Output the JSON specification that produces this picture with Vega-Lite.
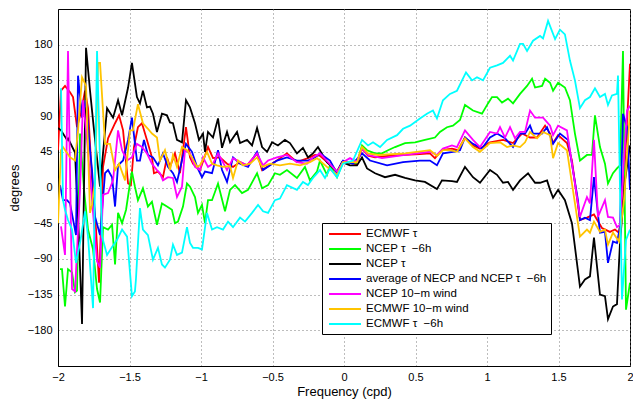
{
  "$schema": "https://vega.github.io/schema/vega-lite/v6.json",
  "description": "Phase of the wind-stress / wind response versus frequency for seven forcing products.",
  "width": 572,
  "height": 357,
  "autosize": "none",
  "padding": {"left": 58, "top": 9, "right": 3, "bottom": 35},
  "background": "white",
  "config": {
    "font": "Liberation Sans",
    "view": {"stroke": "black", "strokeWidth": 1},
    "axis": {
      "domainColor": "black", "domainWidth": 1,
      "ticks": false,
      "labelColor": "black", "labelFontSize": 11, "labelFont": "Liberation Sans",
      "titleColor": "black", "titleFontSize": 13, "titleFontWeight": "normal", "titleFont": "Liberation Sans",
      "gridColor": "#7a7a7a", "gridDash": [1, 3], "gridOpacity": 1, "gridWidth": 1
    }
  },
  "data": {"values": [
    {"s":"a","f":-2.000,"d":47},{"s":"a","f":-1.979,"d":122},{"s":"a","f":-1.951,"d":128},{"s":"a","f":-1.916,"d":120},{"s":"a","f":-1.895,"d":114},{"s":"a","f":-1.867,"d":76},{"s":"a","f":-1.839,"d":95},{"s":"a","f":-1.811,"d":122},{"s":"a","f":-1.790,"d":100},{"s":"a","f":-1.762,"d":9},{"s":"a","f":-1.734,"d":-53},{"s":"a","f":-1.713,"d":-120},{"s":"a","f":-1.685,"d":26},{"s":"a","f":-1.650,"d":62},{"s":"a","f":-1.601,"d":81},{"s":"a","f":-1.573,"d":91},{"s":"a","f":-1.545,"d":72},{"s":"a","f":-1.510,"d":5},{"s":"a","f":-1.490,"d":3},{"s":"a","f":-1.469,"d":51},{"s":"a","f":-1.441,"d":76},{"s":"a","f":-1.413,"d":81},{"s":"a","f":-1.378,"d":60},{"s":"a","f":-1.343,"d":38},{"s":"a","f":-1.329,"d":18},{"s":"a","f":-1.301,"d":20},{"s":"a","f":-1.266,"d":13},{"s":"a","f":-1.238,"d":38},{"s":"a","f":-1.217,"d":26},{"s":"a","f":-1.182,"d":43},{"s":"a","f":-1.147,"d":18},{"s":"a","f":-1.105,"d":76},{"s":"a","f":-1.077,"d":38},{"s":"a","f":-1.056,"d":30},{"s":"a","f":-1.007,"d":22},{"s":"a","f":-0.951,"d":51},{"s":"a","f":-0.916,"d":37},{"s":"a","f":-0.867,"d":38},{"s":"a","f":-0.818,"d":30},{"s":"a","f":-0.776,"d":26},{"s":"a","f":-0.727,"d":32},{"s":"a","f":-0.678,"d":28},{"s":"a","f":-0.608,"d":43},{"s":"a","f":-0.573,"d":22},{"s":"a","f":-0.538,"d":26},{"s":"a","f":-0.469,"d":34},{"s":"a","f":-0.399,"d":43},{"s":"a","f":-0.329,"d":32},{"s":"a","f":-0.252,"d":37},{"s":"a","f":-0.203,"d":41},{"s":"a","f":-0.168,"d":40},{"s":"a","f":-0.112,"d":31},{"s":"a","f":-0.049,"d":20},{"s":"a","f":-0.007,"d":32},{"s":"a","f":0.042,"d":31},{"s":"a","f":0.091,"d":29},{"s":"a","f":0.126,"d":49},{"s":"a","f":0.168,"d":40},{"s":"a","f":0.217,"d":38},{"s":"a","f":0.322,"d":40},{"s":"a","f":0.427,"d":41},{"s":"a","f":0.531,"d":42},{"s":"a","f":0.601,"d":43},{"s":"a","f":0.636,"d":37},{"s":"a","f":0.685,"d":47},{"s":"a","f":0.755,"d":49},{"s":"a","f":0.797,"d":47},{"s":"a","f":0.846,"d":63},{"s":"a","f":0.902,"d":53},{"s":"a","f":0.951,"d":49},{"s":"a","f":1.021,"d":57},{"s":"a","f":1.112,"d":60},{"s":"a","f":1.182,"d":56},{"s":"a","f":1.245,"d":68},{"s":"a","f":1.301,"d":63},{"s":"a","f":1.350,"d":63},{"s":"a","f":1.406,"d":78},{"s":"a","f":1.441,"d":68},{"s":"a","f":1.462,"d":56},{"s":"a","f":1.497,"d":66},{"s":"a","f":1.559,"d":56},{"s":"a","f":1.594,"d":34},{"s":"a","f":1.650,"d":-41},{"s":"a","f":1.699,"d":-38},{"s":"a","f":1.748,"d":-34},{"s":"a","f":1.804,"d":-51},{"s":"a","f":1.860,"d":-56},{"s":"a","f":1.895,"d":-53},{"s":"a","f":1.923,"d":-57},{"s":"a","f":1.951,"d":-16},{"s":"a","f":2.000,"d":156},

    {"s":"b","f":-1.986,"d":-103},{"s":"b","f":-1.972,"d":-103},{"s":"b","f":-1.951,"d":-150},{"s":"b","f":-1.930,"d":-103},{"s":"b","f":-1.902,"d":-107},{"s":"b","f":-1.881,"d":-132},{"s":"b","f":-1.867,"d":-130},{"s":"b","f":-1.846,"d":68},{"s":"b","f":-1.818,"d":-3},{"s":"b","f":-1.790,"d":-53},{"s":"b","f":-1.755,"d":-78},{"s":"b","f":-1.727,"d":-128},{"s":"b","f":-1.706,"d":-145},{"s":"b","f":-1.685,"d":-50},{"s":"b","f":-1.650,"d":-53},{"s":"b","f":-1.622,"d":-47},{"s":"b","f":-1.601,"d":-97},{"s":"b","f":-1.580,"d":-32},{"s":"b","f":-1.552,"d":-45},{"s":"b","f":-1.524,"d":-28},{"s":"b","f":-1.497,"d":5},{"s":"b","f":-1.483,"d":20},{"s":"b","f":-1.462,"d":1},{"s":"b","f":-1.441,"d":-16},{"s":"b","f":-1.406,"d":-1},{"s":"b","f":-1.371,"d":-24},{"s":"b","f":-1.343,"d":-18},{"s":"b","f":-1.308,"d":-47},{"s":"b","f":-1.273,"d":-20},{"s":"b","f":-1.238,"d":-24},{"s":"b","f":-1.203,"d":-28},{"s":"b","f":-1.182,"d":-45},{"s":"b","f":-1.161,"d":-43},{"s":"b","f":-1.126,"d":-24},{"s":"b","f":-1.098,"d":5},{"s":"b","f":-1.077,"d":1},{"s":"b","f":-1.042,"d":-12},{"s":"b","f":-1.021,"d":-32},{"s":"b","f":-0.993,"d":-22},{"s":"b","f":-0.972,"d":-45},{"s":"b","f":-0.951,"d":-16},{"s":"b","f":-0.923,"d":-16},{"s":"b","f":-0.881,"d":5},{"s":"b","f":-0.832,"d":-30},{"s":"b","f":-0.797,"d":-3},{"s":"b","f":-0.762,"d":3},{"s":"b","f":-0.713,"d":-7},{"s":"b","f":-0.671,"d":-3},{"s":"b","f":-0.608,"d":18},{"s":"b","f":-0.573,"d":-1},{"s":"b","f":-0.531,"d":3},{"s":"b","f":-0.483,"d":18},{"s":"b","f":-0.448,"d":16},{"s":"b","f":-0.399,"d":22},{"s":"b","f":-0.329,"d":12},{"s":"b","f":-0.273,"d":26},{"s":"b","f":-0.238,"d":9},{"s":"b","f":-0.189,"d":20},{"s":"b","f":-0.168,"d":34},{"s":"b","f":-0.119,"d":16},{"s":"b","f":-0.098,"d":28},{"s":"b","f":-0.049,"d":13},{"s":"b","f":-0.007,"d":32},{"s":"b","f":0.042,"d":31},{"s":"b","f":0.091,"d":31},{"s":"b","f":0.126,"d":53},{"s":"b","f":0.161,"d":47},{"s":"b","f":0.217,"d":43},{"s":"b","f":0.266,"d":43},{"s":"b","f":0.308,"d":47},{"s":"b","f":0.357,"d":51},{"s":"b","f":0.427,"d":56},{"s":"b","f":0.497,"d":57},{"s":"b","f":0.566,"d":60},{"s":"b","f":0.636,"d":63},{"s":"b","f":0.671,"d":70},{"s":"b","f":0.720,"d":76},{"s":"b","f":0.762,"d":78},{"s":"b","f":0.811,"d":85},{"s":"b","f":0.846,"d":104},{"s":"b","f":0.902,"d":97},{"s":"b","f":0.965,"d":93},{"s":"b","f":1.007,"d":106},{"s":"b","f":1.035,"d":114},{"s":"b","f":1.070,"d":114},{"s":"b","f":1.105,"d":107},{"s":"b","f":1.147,"d":112},{"s":"b","f":1.182,"d":106},{"s":"b","f":1.231,"d":118},{"s":"b","f":1.280,"d":128},{"s":"b","f":1.315,"d":137},{"s":"b","f":1.336,"d":126},{"s":"b","f":1.385,"d":128},{"s":"b","f":1.406,"d":137},{"s":"b","f":1.441,"d":132},{"s":"b","f":1.462,"d":122},{"s":"b","f":1.497,"d":132},{"s":"b","f":1.545,"d":126},{"s":"b","f":1.580,"d":110},{"s":"b","f":1.615,"d":68},{"s":"b","f":1.650,"d":34},{"s":"b","f":1.699,"d":41},{"s":"b","f":1.734,"d":41},{"s":"b","f":1.755,"d":91},{"s":"b","f":1.790,"d":51},{"s":"b","f":1.825,"d":30},{"s":"b","f":1.846,"d":5},{"s":"b","f":1.881,"d":18},{"s":"b","f":1.909,"d":24},{"s":"b","f":1.930,"d":28},{"s":"b","f":1.951,"d":172},{"s":"b","f":1.972,"d":-154},{"s":"b","f":2.000,"d":-120},

    {"s":"c","f":-2.000,"d":75},{"s":"c","f":-1.979,"d":72},{"s":"c","f":-1.937,"d":60},{"s":"c","f":-1.930,"d":62},{"s":"c","f":-1.881,"d":44},{"s":"c","f":-1.853,"d":-66},{"s":"c","f":-1.832,"d":-172},{"s":"c","f":-1.804,"d":176},{"s":"c","f":-1.776,"d":122},{"s":"c","f":-1.748,"d":72},{"s":"c","f":-1.706,"d":1},{"s":"c","f":-1.657,"d":100},{"s":"c","f":-1.615,"d":88},{"s":"c","f":-1.580,"d":110},{"s":"c","f":-1.552,"d":91},{"s":"c","f":-1.510,"d":126},{"s":"c","f":-1.483,"d":157},{"s":"c","f":-1.448,"d":114},{"s":"c","f":-1.427,"d":106},{"s":"c","f":-1.406,"d":122},{"s":"c","f":-1.378,"d":101},{"s":"c","f":-1.357,"d":102},{"s":"c","f":-1.336,"d":93},{"s":"c","f":-1.308,"d":70},{"s":"c","f":-1.273,"d":93},{"s":"c","f":-1.238,"d":91},{"s":"c","f":-1.217,"d":82},{"s":"c","f":-1.196,"d":81},{"s":"c","f":-1.168,"d":60},{"s":"c","f":-1.133,"d":57},{"s":"c","f":-1.105,"d":110},{"s":"c","f":-1.077,"d":101},{"s":"c","f":-1.042,"d":81},{"s":"c","f":-1.014,"d":60},{"s":"c","f":-0.986,"d":68},{"s":"c","f":-0.972,"d":45},{"s":"c","f":-0.951,"d":70},{"s":"c","f":-0.916,"d":63},{"s":"c","f":-0.881,"d":87},{"s":"c","f":-0.853,"d":50},{"s":"c","f":-0.818,"d":70},{"s":"c","f":-0.797,"d":57},{"s":"c","f":-0.748,"d":70},{"s":"c","f":-0.727,"d":56},{"s":"c","f":-0.678,"d":60},{"s":"c","f":-0.643,"d":53},{"s":"c","f":-0.608,"d":75},{"s":"c","f":-0.573,"d":51},{"s":"c","f":-0.538,"d":45},{"s":"c","f":-0.503,"d":57},{"s":"c","f":-0.462,"d":53},{"s":"c","f":-0.413,"d":60},{"s":"c","f":-0.378,"d":56},{"s":"c","f":-0.329,"d":43},{"s":"c","f":-0.287,"d":50},{"s":"c","f":-0.252,"d":38},{"s":"c","f":-0.217,"d":43},{"s":"c","f":-0.182,"d":51},{"s":"c","f":-0.119,"d":32},{"s":"c","f":-0.049,"d":20},{"s":"c","f":-0.014,"d":32},{"s":"c","f":0.042,"d":28},{"s":"c","f":0.091,"d":28},{"s":"c","f":0.126,"d":38},{"s":"c","f":0.161,"d":24},{"s":"c","f":0.217,"d":18},{"s":"c","f":0.287,"d":13},{"s":"c","f":0.357,"d":16},{"s":"c","f":0.427,"d":12},{"s":"c","f":0.497,"d":9},{"s":"c","f":0.566,"d":7},{"s":"c","f":0.650,"d":-2},{"s":"c","f":0.685,"d":9},{"s":"c","f":0.755,"d":8},{"s":"c","f":0.790,"d":7},{"s":"c","f":0.846,"d":26},{"s":"c","f":0.902,"d":13},{"s":"c","f":0.951,"d":6},{"s":"c","f":1.021,"d":22},{"s":"c","f":1.070,"d":16},{"s":"c","f":1.112,"d":6},{"s":"c","f":1.147,"d":7},{"s":"c","f":1.182,"d":-3},{"s":"c","f":1.231,"d":9},{"s":"c","f":1.287,"d":18},{"s":"c","f":1.336,"d":6},{"s":"c","f":1.371,"d":6},{"s":"c","f":1.420,"d":9},{"s":"c","f":1.441,"d":-3},{"s":"c","f":1.462,"d":-13},{"s":"c","f":1.497,"d":-3},{"s":"c","f":1.545,"d":-16},{"s":"c","f":1.594,"d":-45},{"s":"c","f":1.650,"d":-125},{"s":"c","f":1.685,"d":-116},{"s":"c","f":1.720,"d":-112},{"s":"c","f":1.748,"d":-63},{"s":"c","f":1.790,"d":-135},{"s":"c","f":1.825,"d":-137},{"s":"c","f":1.846,"d":-166},{"s":"c","f":1.881,"d":-150},{"s":"c","f":1.909,"d":-147},{"s":"c","f":1.930,"d":-70},{"s":"c","f":1.965,"d":9},{"s":"c","f":2.000,"d":53},

    {"s":"d","f":-1.986,"d":3},{"s":"d","f":-1.965,"d":-16},{"s":"d","f":-1.937,"d":-16},{"s":"d","f":-1.916,"d":-20},{"s":"d","f":-1.874,"d":-60},{"s":"d","f":-1.860,"d":141},{"s":"d","f":-1.832,"d":88},{"s":"d","f":-1.804,"d":110},{"s":"d","f":-1.776,"d":47},{"s":"d","f":-1.762,"d":22},{"s":"d","f":-1.741,"d":-37},{"s":"d","f":-1.706,"d":-60},{"s":"d","f":-1.671,"d":18},{"s":"d","f":-1.650,"d":22},{"s":"d","f":-1.622,"d":13},{"s":"d","f":-1.601,"d":-24},{"s":"d","f":-1.580,"d":28},{"s":"d","f":-1.545,"d":34},{"s":"d","f":-1.510,"d":60},{"s":"d","f":-1.483,"d":88},{"s":"d","f":-1.448,"d":34},{"s":"d","f":-1.427,"d":34},{"s":"d","f":-1.399,"d":60},{"s":"d","f":-1.371,"d":41},{"s":"d","f":-1.336,"d":38},{"s":"d","f":-1.301,"d":28},{"s":"d","f":-1.266,"d":43},{"s":"d","f":-1.231,"d":26},{"s":"d","f":-1.196,"d":18},{"s":"d","f":-1.168,"d":7},{"s":"d","f":-1.133,"d":34},{"s":"d","f":-1.105,"d":55},{"s":"d","f":-1.063,"d":45},{"s":"d","f":-1.028,"d":26},{"s":"d","f":-0.993,"d":13},{"s":"d","f":-0.972,"d":20},{"s":"d","f":-0.923,"d":18},{"s":"d","f":-0.881,"d":47},{"s":"d","f":-0.853,"d":22},{"s":"d","f":-0.818,"d":7},{"s":"d","f":-0.776,"d":38},{"s":"d","f":-0.727,"d":30},{"s":"d","f":-0.671,"d":26},{"s":"d","f":-0.608,"d":45},{"s":"d","f":-0.566,"d":22},{"s":"d","f":-0.517,"d":28},{"s":"d","f":-0.469,"d":34},{"s":"d","f":-0.399,"d":38},{"s":"d","f":-0.329,"d":34},{"s":"d","f":-0.252,"d":34},{"s":"d","f":-0.203,"d":38},{"s":"d","f":-0.168,"d":43},{"s":"d","f":-0.098,"d":34},{"s":"d","f":-0.049,"d":18},{"s":"d","f":-0.007,"d":34},{"s":"d","f":0.063,"d":30},{"s":"d","f":0.126,"d":43},{"s":"d","f":0.182,"d":34},{"s":"d","f":0.301,"d":28},{"s":"d","f":0.413,"d":32},{"s":"d","f":0.531,"d":34},{"s":"d","f":0.601,"d":34},{"s":"d","f":0.650,"d":28},{"s":"d","f":0.692,"d":43},{"s":"d","f":0.762,"d":45},{"s":"d","f":0.811,"d":47},{"s":"d","f":0.846,"d":63},{"s":"d","f":0.902,"d":55},{"s":"d","f":0.965,"d":49},{"s":"d","f":1.021,"d":63},{"s":"d","f":1.070,"d":68},{"s":"d","f":1.126,"d":62},{"s":"d","f":1.182,"d":51},{"s":"d","f":1.231,"d":68},{"s":"d","f":1.266,"d":68},{"s":"d","f":1.301,"d":78},{"s":"d","f":1.322,"d":68},{"s":"d","f":1.385,"d":68},{"s":"d","f":1.420,"d":76},{"s":"d","f":1.462,"d":55},{"s":"d","f":1.510,"d":68},{"s":"d","f":1.566,"d":60},{"s":"d","f":1.636,"d":-16},{"s":"d","f":1.650,"d":-41},{"s":"d","f":1.685,"d":-38},{"s":"d","f":1.720,"d":-41},{"s":"d","f":1.748,"d":13},{"s":"d","f":1.790,"d":-57},{"s":"d","f":1.825,"d":-56},{"s":"d","f":1.846,"d":-95},{"s":"d","f":1.881,"d":-68},{"s":"d","f":1.909,"d":-70},{"s":"d","f":1.930,"d":-50},{"s":"d","f":1.951,"d":93},{"s":"d","f":1.979,"d":76},{"s":"d","f":2.000,"d":-3},

    {"s":"e","f":-1.979,"d":-49},{"s":"e","f":-1.951,"d":-85},{"s":"e","f":-1.930,"d":172},{"s":"e","f":-1.902,"d":-128},{"s":"e","f":-1.881,"d":-131},{"s":"e","f":-1.846,"d":-3},{"s":"e","f":-1.825,"d":110},{"s":"e","f":-1.797,"d":60},{"s":"e","f":-1.762,"d":-16},{"s":"e","f":-1.727,"d":-93},{"s":"e","f":-1.706,"d":-101},{"s":"e","f":-1.685,"d":-9},{"s":"e","f":-1.650,"d":-7},{"s":"e","f":-1.615,"d":9},{"s":"e","f":-1.580,"d":72},{"s":"e","f":-1.552,"d":47},{"s":"e","f":-1.517,"d":34},{"s":"e","f":-1.483,"d":38},{"s":"e","f":-1.448,"d":55},{"s":"e","f":-1.413,"d":51},{"s":"e","f":-1.378,"d":43},{"s":"e","f":-1.343,"d":30},{"s":"e","f":-1.308,"d":22},{"s":"e","f":-1.287,"d":18},{"s":"e","f":-1.266,"d":9},{"s":"e","f":-1.231,"d":13},{"s":"e","f":-1.196,"d":12},{"s":"e","f":-1.168,"d":-12},{"s":"e","f":-1.133,"d":1},{"s":"e","f":-1.112,"d":47},{"s":"e","f":-1.077,"d":43},{"s":"e","f":-1.042,"d":26},{"s":"e","f":-1.007,"d":22},{"s":"e","f":-0.986,"d":38},{"s":"e","f":-0.951,"d":26},{"s":"e","f":-0.916,"d":30},{"s":"e","f":-0.881,"d":43},{"s":"e","f":-0.853,"d":34},{"s":"e","f":-0.818,"d":22},{"s":"e","f":-0.776,"d":37},{"s":"e","f":-0.727,"d":32},{"s":"e","f":-0.678,"d":28},{"s":"e","f":-0.608,"d":43},{"s":"e","f":-0.566,"d":28},{"s":"e","f":-0.531,"d":34},{"s":"e","f":-0.469,"d":38},{"s":"e","f":-0.399,"d":41},{"s":"e","f":-0.329,"d":32},{"s":"e","f":-0.259,"d":30},{"s":"e","f":-0.217,"d":38},{"s":"e","f":-0.168,"d":43},{"s":"e","f":-0.112,"d":32},{"s":"e","f":-0.049,"d":20},{"s":"e","f":-0.007,"d":32},{"s":"e","f":0.042,"d":37},{"s":"e","f":0.091,"d":32},{"s":"e","f":0.126,"d":49},{"s":"e","f":0.168,"d":41},{"s":"e","f":0.266,"d":37},{"s":"e","f":0.427,"d":41},{"s":"e","f":0.601,"d":45},{"s":"e","f":0.650,"d":41},{"s":"e","f":0.692,"d":49},{"s":"e","f":0.755,"d":53},{"s":"e","f":0.790,"d":51},{"s":"e","f":0.846,"d":72},{"s":"e","f":0.902,"d":60},{"s":"e","f":0.951,"d":51},{"s":"e","f":1.021,"d":70},{"s":"e","f":1.070,"d":68},{"s":"e","f":1.091,"d":76},{"s":"e","f":1.126,"d":63},{"s":"e","f":1.161,"d":76},{"s":"e","f":1.196,"d":62},{"s":"e","f":1.231,"d":70},{"s":"e","f":1.266,"d":70},{"s":"e","f":1.301,"d":97},{"s":"e","f":1.336,"d":88},{"s":"e","f":1.392,"d":88},{"s":"e","f":1.441,"d":78},{"s":"e","f":1.462,"d":66},{"s":"e","f":1.497,"d":78},{"s":"e","f":1.559,"d":72},{"s":"e","f":1.650,"d":-37},{"s":"e","f":1.699,"d":-12},{"s":"e","f":1.720,"d":-20},{"s":"e","f":1.748,"d":60},{"s":"e","f":1.776,"d":-37},{"s":"e","f":1.825,"d":-16},{"s":"e","f":1.846,"d":-37},{"s":"e","f":1.881,"d":-38},{"s":"e","f":1.909,"d":-50},{"s":"e","f":1.930,"d":-47},{"s":"e","f":1.979,"d":97},{"s":"e","f":2.000,"d":103},

    {"s":"f","f":-2.000,"d":-45},{"s":"f","f":-1.979,"d":47},{"s":"f","f":-1.965,"d":51},{"s":"f","f":-1.916,"d":38},{"s":"f","f":-1.881,"d":34},{"s":"f","f":-1.860,"d":72},{"s":"f","f":-1.832,"d":139},{"s":"f","f":-1.804,"d":128},{"s":"f","f":-1.776,"d":-32},{"s":"f","f":-1.762,"d":-22},{"s":"f","f":-1.741,"d":9},{"s":"f","f":-1.720,"d":157},{"s":"f","f":-1.706,"d":157},{"s":"f","f":-1.671,"d":55},{"s":"f","f":-1.636,"d":55},{"s":"f","f":-1.601,"d":22},{"s":"f","f":-1.573,"d":30},{"s":"f","f":-1.531,"d":9},{"s":"f","f":-1.497,"d":72},{"s":"f","f":-1.476,"d":72},{"s":"f","f":-1.441,"d":105},{"s":"f","f":-1.406,"d":81},{"s":"f","f":-1.371,"d":74},{"s":"f","f":-1.343,"d":68},{"s":"f","f":-1.308,"d":63},{"s":"f","f":-1.287,"d":34},{"s":"f","f":-1.252,"d":47},{"s":"f","f":-1.217,"d":22},{"s":"f","f":-1.196,"d":41},{"s":"f","f":-1.168,"d":26},{"s":"f","f":-1.133,"d":51},{"s":"f","f":-1.098,"d":47},{"s":"f","f":-1.063,"d":38},{"s":"f","f":-1.028,"d":26},{"s":"f","f":-1.007,"d":28},{"s":"f","f":-0.958,"d":45},{"s":"f","f":-0.923,"d":30},{"s":"f","f":-0.888,"d":28},{"s":"f","f":-0.846,"d":26},{"s":"f","f":-0.797,"d":27},{"s":"f","f":-0.776,"d":12},{"s":"f","f":-0.741,"d":34},{"s":"f","f":-0.706,"d":28},{"s":"f","f":-0.657,"d":30},{"s":"f","f":-0.608,"d":38},{"s":"f","f":-0.573,"d":26},{"s":"f","f":-0.517,"d":30},{"s":"f","f":-0.448,"d":28},{"s":"f","f":-0.378,"d":30},{"s":"f","f":-0.308,"d":28},{"s":"f","f":-0.238,"d":32},{"s":"f","f":-0.189,"d":37},{"s":"f","f":-0.119,"d":26},{"s":"f","f":-0.049,"d":16},{"s":"f","f":-0.007,"d":32},{"s":"f","f":0.091,"d":32},{"s":"f","f":0.126,"d":51},{"s":"f","f":0.168,"d":43},{"s":"f","f":0.238,"d":41},{"s":"f","f":0.427,"d":43},{"s":"f","f":0.601,"d":47},{"s":"f","f":0.650,"d":40},{"s":"f","f":0.692,"d":47},{"s":"f","f":0.741,"d":47},{"s":"f","f":0.790,"d":45},{"s":"f","f":0.846,"d":62},{"s":"f","f":0.902,"d":51},{"s":"f","f":0.951,"d":45},{"s":"f","f":1.021,"d":56},{"s":"f","f":1.091,"d":57},{"s":"f","f":1.140,"d":51},{"s":"f","f":1.182,"d":53},{"s":"f","f":1.231,"d":51},{"s":"f","f":1.266,"d":57},{"s":"f","f":1.301,"d":70},{"s":"f","f":1.350,"d":62},{"s":"f","f":1.392,"d":70},{"s":"f","f":1.441,"d":66},{"s":"f","f":1.462,"d":37},{"s":"f","f":1.497,"d":56},{"s":"f","f":1.559,"d":47},{"s":"f","f":1.650,"d":-62},{"s":"f","f":1.699,"d":-53},{"s":"f","f":1.720,"d":-57},{"s":"f","f":1.748,"d":-43},{"s":"f","f":1.790,"d":-56},{"s":"f","f":1.825,"d":-53},{"s":"f","f":1.846,"d":-72},{"s":"f","f":1.881,"d":-57},{"s":"f","f":1.923,"d":-68},{"s":"f","f":1.958,"d":-16},{"s":"f","f":2.000,"d":97},

    {"s":"g","f":-1.979,"d":125},{"s":"g","f":-1.965,"d":-16},{"s":"g","f":-1.951,"d":-28},{"s":"g","f":-1.930,"d":-41},{"s":"g","f":-1.902,"d":-53},{"s":"g","f":-1.874,"d":-95},{"s":"g","f":-1.846,"d":-70},{"s":"g","f":-1.811,"d":-30},{"s":"g","f":-1.790,"d":-62},{"s":"g","f":-1.755,"d":-152},{"s":"g","f":-1.727,"d":172},{"s":"g","f":-1.692,"d":-62},{"s":"g","f":-1.657,"d":-85},{"s":"g","f":-1.622,"d":-75},{"s":"g","f":-1.587,"d":-66},{"s":"g","f":-1.552,"d":-53},{"s":"g","f":-1.517,"d":-62},{"s":"g","f":-1.483,"d":-137},{"s":"g","f":-1.462,"d":-131},{"s":"g","f":-1.455,"d":-116},{"s":"g","f":-1.427,"d":-26},{"s":"g","f":-1.406,"d":-53},{"s":"g","f":-1.371,"d":-60},{"s":"g","f":-1.336,"d":-91},{"s":"g","f":-1.301,"d":-76},{"s":"g","f":-1.273,"d":-97},{"s":"g","f":-1.252,"d":-101},{"s":"g","f":-1.217,"d":-91},{"s":"g","f":-1.196,"d":-72},{"s":"g","f":-1.168,"d":-85},{"s":"g","f":-1.133,"d":-82},{"s":"g","f":-1.098,"d":-50},{"s":"g","f":-1.077,"d":-70},{"s":"g","f":-1.056,"d":-76},{"s":"g","f":-1.021,"d":-76},{"s":"g","f":-0.993,"d":-78},{"s":"g","f":-0.958,"d":-32},{"s":"g","f":-0.923,"d":-53},{"s":"g","f":-0.888,"d":-50},{"s":"g","f":-0.846,"d":-53},{"s":"g","f":-0.811,"d":-43},{"s":"g","f":-0.776,"d":-50},{"s":"g","f":-0.727,"d":-38},{"s":"g","f":-0.692,"d":-43},{"s":"g","f":-0.643,"d":-32},{"s":"g","f":-0.601,"d":-22},{"s":"g","f":-0.566,"d":-30},{"s":"g","f":-0.531,"d":-32},{"s":"g","f":-0.483,"d":-16},{"s":"g","f":-0.448,"d":-14},{"s":"g","f":-0.399,"d":3},{"s":"g","f":-0.329,"d":-3},{"s":"g","f":-0.287,"d":7},{"s":"g","f":-0.252,"d":3},{"s":"g","f":-0.217,"d":12},{"s":"g","f":-0.168,"d":22},{"s":"g","f":-0.133,"d":12},{"s":"g","f":-0.098,"d":24},{"s":"g","f":-0.049,"d":13},{"s":"g","f":-0.007,"d":30},{"s":"g","f":0.063,"d":34},{"s":"g","f":0.126,"d":60},{"s":"g","f":0.168,"d":53},{"s":"g","f":0.203,"d":57},{"s":"g","f":0.252,"d":51},{"s":"g","f":0.301,"d":60},{"s":"g","f":0.371,"d":66},{"s":"g","f":0.413,"d":74},{"s":"g","f":0.462,"d":78},{"s":"g","f":0.531,"d":87},{"s":"g","f":0.580,"d":93},{"s":"g","f":0.622,"d":97},{"s":"g","f":0.650,"d":87},{"s":"g","f":0.692,"d":110},{"s":"g","f":0.741,"d":118},{"s":"g","f":0.790,"d":122},{"s":"g","f":0.853,"d":145},{"s":"g","f":0.895,"d":135},{"s":"g","f":0.930,"d":139},{"s":"g","f":0.972,"d":135},{"s":"g","f":1.021,"d":151},{"s":"g","f":1.070,"d":154},{"s":"g","f":1.112,"d":157},{"s":"g","f":1.161,"d":166},{"s":"g","f":1.182,"d":160},{"s":"g","f":1.231,"d":181},{"s":"g","f":1.252,"d":181},{"s":"g","f":1.280,"d":172},{"s":"g","f":1.322,"d":185},{"s":"g","f":1.371,"d":191},{"s":"g","f":1.392,"d":188},{"s":"g","f":1.427,"d":210},{"s":"g","f":1.476,"d":187},{"s":"g","f":1.510,"d":199},{"s":"g","f":1.545,"d":193},{"s":"g","f":1.580,"d":160},{"s":"g","f":1.615,"d":135},{"s":"g","f":1.650,"d":100},{"s":"g","f":1.685,"d":110},{"s":"g","f":1.720,"d":114},{"s":"g","f":1.755,"d":125},{"s":"g","f":1.790,"d":114},{"s":"g","f":1.825,"d":118},{"s":"g","f":1.846,"d":104},{"s":"g","f":1.874,"d":116},{"s":"g","f":1.909,"d":118},{"s":"g","f":1.916,"d":141},{"s":"g","f":1.944,"d":-141},{"s":"g","f":1.972,"d":-66},{"s":"g","f":2.000,"d":-53}
  ]},
  "mark": {"type": "line", "strokeWidth": 1.8, "clip": true},
  "encoding": {
    "x": {
      "field": "f", "type": "quantitative",
      "scale": {"domain": [-2, 2], "nice": false, "zero": false},
      "axis": {"values": [-2, -1.5, -1, -0.5, 0, 0.5, 1, 1.5, 2], "format": "~g", "title": "Frequency (cpd)", "labelPadding": 5, "titlePadding": 3, "labelFlush": false}
    },
    "y": {
      "field": "d", "type": "quantitative",
      "scale": {"domain": [-225, 225], "nice": false, "zero": false},
      "axis": {"values": [-180, -135, -90, -45, 0, 45, 90, 135, 180], "title": "degrees", "labelPadding": 6, "titlePadding": 6}
    },
    "color": {
      "field": "s", "type": "nominal",
      "scale": {
        "domain": ["a", "b", "c", "d", "e", "f", "g"],
        "range": ["#ff0000", "#00ff00", "#000000", "#0000ff", "#ff00ff", "#ffc400", "#00ffff"]
      },
      "legend": {
        "orient": "none", "legendX": 264, "legendY": 214,
        "title": null,
        "labelExpr": "datum.label == 'a' ? 'ECMWF τ' : datum.label == 'b' ? 'NCEP τ\u00a0 −6h' : datum.label == 'c' ? 'NCEP τ' : datum.label == 'd' ? 'average of NECP and NCEP τ\u00a0 −6h' : datum.label == 'e' ? 'NCEP 10−m wind' : datum.label == 'f' ? 'ECMWF 10−m wind' : 'ECMWF τ\u00a0 −6h'",
        "symbolType": "M-1,0H4.33",
        "symbolSize": 144,
        "symbolStrokeWidth": 2,
        "symbolFillColor": "transparent",
        "symbolOffset": 2,
        "labelOffset": 24,
        "labelFontSize": 11.5,
        "labelColor": "black",
        "labelLimit": 400,
        "rowPadding": 2,
        "padding": 4,
        "strokeColor": "black",
        "fillColor": "white"
      }
    }
  }
}
